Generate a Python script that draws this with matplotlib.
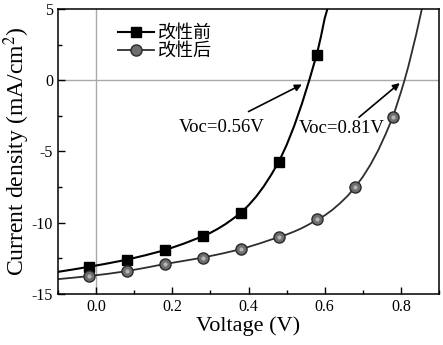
import matplotlib
matplotlib.use('Agg')
import matplotlib.pyplot as plt
from matplotlib.ticker import MultipleLocator

plt.rcParams['font.family'] = ['Liberation Serif', 'Noto Sans CJK SC']
plt.rcParams['mathtext.fontset'] = 'stix'
plt.rcParams['axes.unicode_minus'] = False

# measured points
voltage_pts = [-0.02, 0.08, 0.18, 0.28, 0.38, 0.48, 0.58]
before_pts = [-13.1, -12.6, -11.93, -10.95, -9.3, -5.75, 1.8]
voltage_pts_after = [-0.02, 0.08, 0.18, 0.28, 0.38, 0.48, 0.58, 0.68, 0.78]
after_pts = [-13.75, -13.4, -12.9, -12.45, -11.86, -11.0, -9.75, -7.5, -2.55]

# fitted curves
before_curve_v = [-0.1, -0.06, -0.02, 0.03, 0.08, 0.13, 0.18, 0.23, 0.28, 0.30, 0.32,
                  0.34, 0.36, 0.38, 0.40, 0.42, 0.44, 0.46, 0.48, 0.50, 0.52, 0.54,
                  0.56, 0.58, 0.59, 0.60, 0.607]
before_curve_j = [-13.45, -13.28, -13.1, -12.86, -12.6, -12.28, -11.93, -11.47, -10.95,
                  -10.71, -10.42, -10.09, -9.71, -9.3, -8.78, -8.17, -7.45, -6.62, -5.7,
                  -4.55, -3.2, -1.66, 0.05, 1.9, 3.05, 4.35, 5.0]
after_curve_v = [-0.1, -0.06, -0.02, 0.03, 0.08, 0.13, 0.18, 0.23, 0.28, 0.33, 0.38,
                 0.43, 0.48, 0.50, 0.52, 0.54, 0.56, 0.58, 0.60, 0.62, 0.64, 0.66, 0.68,
                 0.70, 0.72, 0.74, 0.76, 0.78, 0.80, 0.81, 0.82, 0.84, 0.855]
after_curve_j = [-13.96, -13.86, -13.75, -13.59, -13.4, -13.16, -12.9, -12.68, -12.45,
                 -12.17, -11.86, -11.45, -11.0, -10.83, -10.62, -10.38, -10.1, -9.78,
                 -9.49, -9.1, -8.64, -8.12, -7.5, -6.78, -5.93, -4.94, -3.78, -2.5,
                 -0.84, 0.05, 1.02, 3.2, 5.0]

labels = ['改性前', '改性后']
voc_labels = ['Voc=0.56V', 'Voc=0.81V']

fig = plt.figure(figsize=(4.43, 3.45), dpi=100)
ax = fig.add_axes([0.131, 0.148, 0.86, 0.826])

ax.axhline(0, color='#aaaaaa', lw=1.0, zorder=1)
ax.axvline(0, color='#aaaaaa', lw=1.0, zorder=1)

ax.plot(before_curve_v, before_curve_j, color='black', lw=1.5, zorder=2)
ax.plot(after_curve_v, after_curve_j, color='#2e2e2e', lw=1.3, zorder=2)

ax.plot(voltage_pts, before_pts, 's', color='black', ms=7.5, zorder=3)
ax.plot(voltage_pts_after, after_pts, 'o', mfc='#6e6e6e', mec='#2a2a2a', mew=1.0, ms=8, zorder=3)
ax.plot(voltage_pts_after, after_pts, 'o', mfc='#b5b5b5', mec='none', ms=3, zorder=4)

# legend handles
h1, = ax.plot([], [], '-s', color='black', lw=1.5, ms=7.5)
h2, = ax.plot([], [], '-o', color='#2e2e2e', mfc='#6e6e6e', mec='#2a2a2a', lw=1.3, ms=8)
ax.legend([h1, h2], labels, loc='upper left', bbox_to_anchor=(0.115, 1.0),
          frameon=False, fontsize=13, handlelength=2.0, handletextpad=0.2,
          labelspacing=0.05)

ax.annotate('', xy=(0.54, -0.3), xytext=(0.40, -2.2),
            arrowprops=dict(arrowstyle='-|>', color='black', lw=1.2,
                            mutation_scale=10, shrinkA=0, shrinkB=0))
ax.annotate('', xy=(0.797, -0.2), xytext=(0.69, -2.6),
            arrowprops=dict(arrowstyle='-|>', color='black', lw=1.2,
                            mutation_scale=10, shrinkA=0, shrinkB=0))
ax.text(0.33, -3.3, voc_labels[0], ha='center', va='center', fontsize=13.5)
ax.text(0.645, -3.37, voc_labels[1], ha='center', va='center', fontsize=13.5)

ax.set_xlim(-0.1, 0.9)
ax.set_ylim(-15, 5)
ax.xaxis.set_major_locator(MultipleLocator(0.2))
ax.xaxis.set_minor_locator(MultipleLocator(0.1))
ax.yaxis.set_major_locator(MultipleLocator(5))
ax.yaxis.set_minor_locator(MultipleLocator(2.5))
ax.tick_params(which='both', direction='in', top=False, right=False, labelsize=11.5)
ax.tick_params(which='major', length=5, width=1)
ax.tick_params(which='minor', length=3, width=1)
for s in ax.spines.values():
    s.set_linewidth(1.1)

ax.set_xlabel('Voltage (V)', fontsize=16, labelpad=1)
ax.set_ylabel('Current density (mA/cm$^2$)', fontsize=17, labelpad=0)

fig.savefig('out.png', dpi=100)
